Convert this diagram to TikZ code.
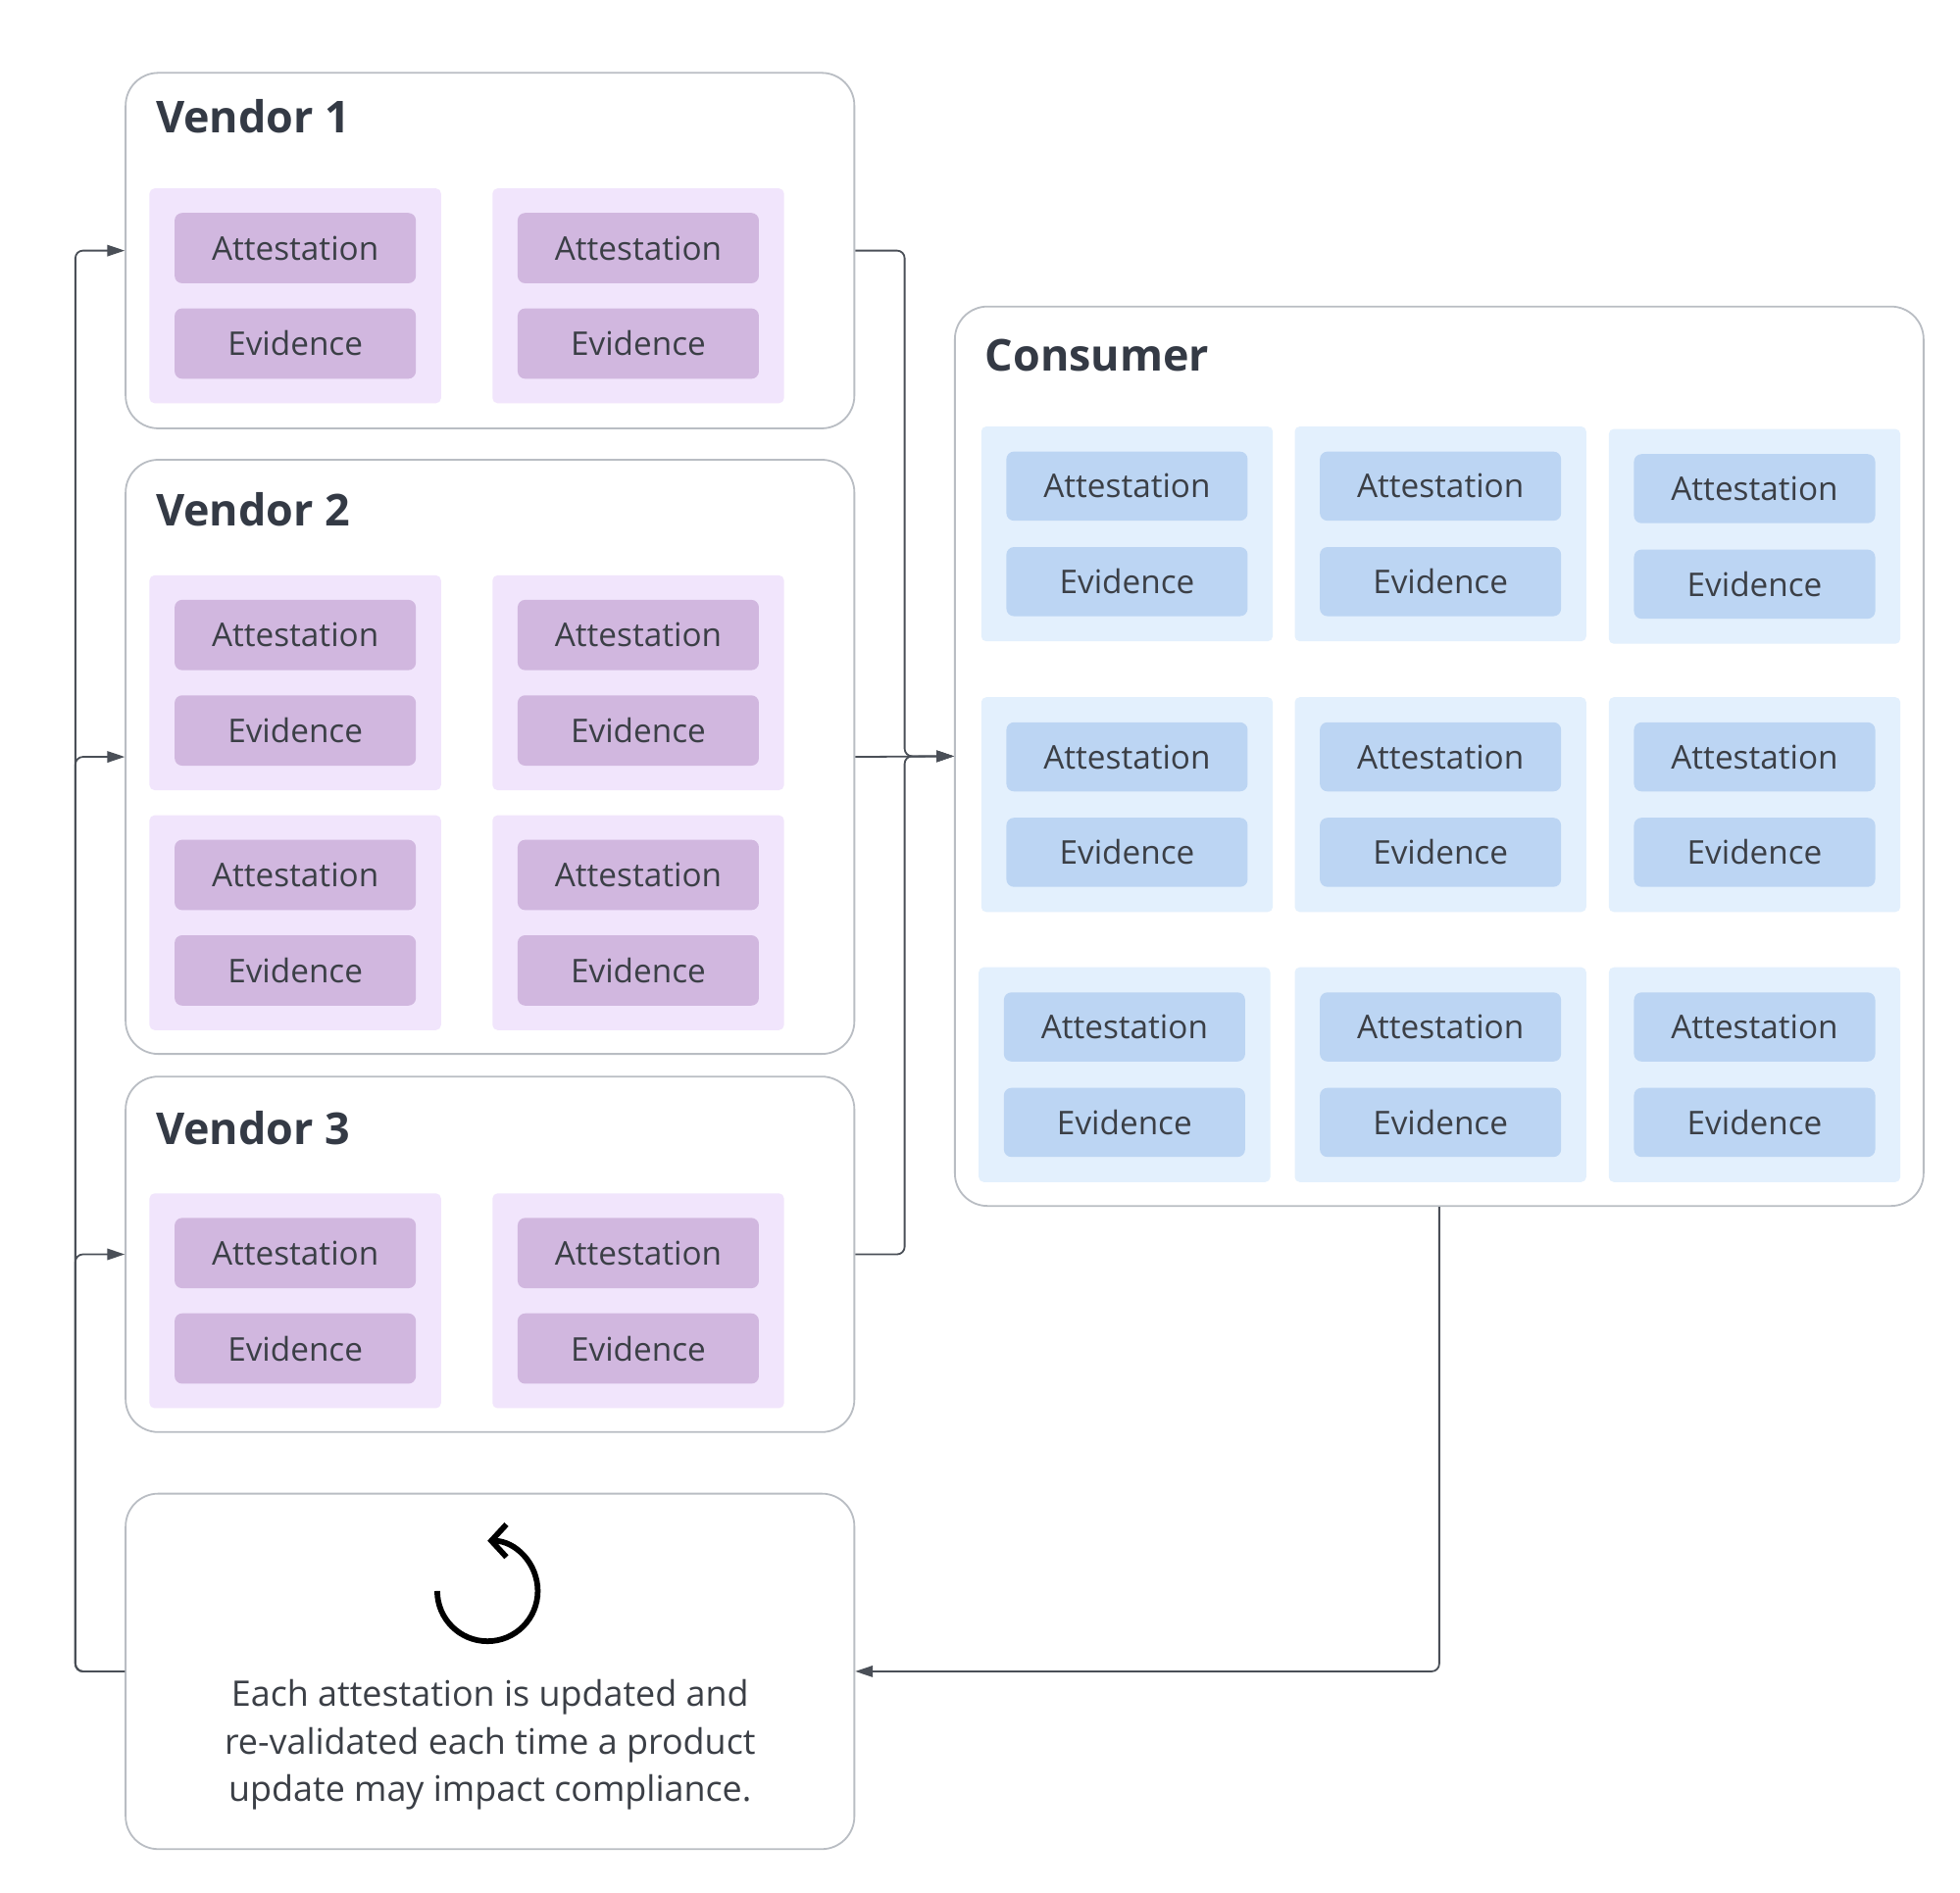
\documentclass[tikz,border=0pt]{standalone}
\usepackage{fontspec}
\setmainfont{Open Sans}
\usetikzlibrary{arrows.meta,calc}
\definecolor{bordergray}{HTML}{B9BDC3}
\definecolor{linegray}{HTML}{4A4F57}
\definecolor{titlecol}{HTML}{343A45}
\definecolor{textcol}{HTML}{3B3F46}
\definecolor{ppanel}{HTML}{F1E5FC}
\definecolor{pinner}{HTML}{D1B7DF}
\definecolor{bpanel}{HTML}{E3F0FD}
\definecolor{binner}{HTML}{BCD5F3}
\tikzset{
  bigbox/.style={draw=bordergray, line width=1.4pt, fill=white, rounded corners=26pt, inner sep=0pt},
  ppan/.style={fill=ppanel, rounded corners=4pt, minimum width=232pt, minimum height=171pt, inner sep=0pt},
  bpan/.style={fill=bpanel, rounded corners=4pt, minimum width=232pt, minimum height=171pt, inner sep=0pt},
  pin/.style={fill=pinner, rounded corners=6pt, minimum width=192pt, minimum height=56pt, inner sep=0pt, text=textcol, font=\fontsize{26}{30}\selectfont},
  bin/.style={fill=binner, rounded corners=6pt, minimum width=192pt, minimum height=55pt, inner sep=0pt, text=textcol, font=\fontsize{26}{30}\selectfont},
  boxtitle/.style={anchor=base west, inner sep=0pt, text=titlecol, font=\fontsize{35}{40}\selectfont\bfseries},
  conn/.style={draw=linegray, line width=1.4pt, rounded corners=6pt, -{Triangle[length=14pt,width=9pt]}},
}
\newcommand{\mkpanel}[5]{%
  \node[#4] (#1) at (#2,#3) {};
  \node[#5] (#1a) at (#2,#3-38) {Attestation};
  \node[#5] (#1e) at (#2,#3+38) {Evidence};
}
\begin{document}
\begin{tikzpicture}[x=1pt,y=-1pt]
\useasboundingbox (0,0) rectangle (1560,1506.2);
% vendor boxes
\node[bigbox, minimum width=580pt, minimum height=283pt] (v1) at (390,199.5) {};
\node[bigbox, minimum width=580pt, minimum height=473pt] (v2) at (390,602.5) {};
\node[bigbox, minimum width=580pt, minimum height=283pt] (v3) at (390,998.5) {};
\node[bigbox, minimum width=580pt, minimum height=283pt] (bot) at (390,1330.5) {};
\node[bigbox, minimum width=771pt, minimum height=716pt] (cons) at (1145.5,602) {};
% titles
\node[boxtitle] (t1) at (124,106) {Vendor 1};
\node[boxtitle] (t2) at (124,419) {Vendor 2};
\node[boxtitle] (t3) at (124,911) {Vendor 3};
\node[boxtitle] (tc) at (784,295) {Consumer};
% vendor panels
\mkpanel{pa}{235}{235.5}{ppan}{pin}
\mkpanel{pb}{508}{235.5}{ppan}{pin}
\mkpanel{pc}{235}{543.5}{ppan}{pin}
\mkpanel{pd}{508}{543.5}{ppan}{pin}
\mkpanel{pe}{235}{734.5}{ppan}{pin}
\mkpanel{pf}{508}{734.5}{ppan}{pin}
\mkpanel{pg}{235}{1035.5}{ppan}{pin}
\mkpanel{ph}{508}{1035.5}{ppan}{pin}
% consumer panels
\mkpanel{ca}{897}{425}{bpan}{bin}
\mkpanel{cb}{1146.5}{425}{bpan}{bin}
\mkpanel{cc}{1396.5}{427}{bpan}{bin}
\mkpanel{cd}{897}{640.5}{bpan}{bin}
\mkpanel{ce}{1146.5}{640.5}{bpan}{bin}
\mkpanel{cf}{1396.5}{640.5}{bpan}{bin}
\mkpanel{cg}{895}{855.5}{bpan}{bin}
\mkpanel{ch}{1146.5}{855.5}{bpan}{bin}
\mkpanel{ci}{1396.5}{855.5}{bpan}{bin}
% refresh icon
\coordinate (ic) at (388,1266.5);
\draw[line width=4.5pt, -{Straight Barb[length=12pt,width=26pt,line width=4.5pt]}] ($(ic)+(-40,0)$) arc[start angle=180, end angle=-90, radius=40];
\node[text=textcol, align=center, font=\fontsize{28}{38}\selectfont] (note) at (390,1389) {Each attestation is updated and\\re-validated each time a product\\update may impact compliance.};
% connectors
\coordinate (m) at (720,602);
\coordinate (L) at (60,1330.5);
\draw[conn] (v1.east) -| (m) -- (cons.west);
\draw[conn] (v2.east) -- (cons.west);
\draw[conn] (v3.east) -| (m) -- (cons.west);
\draw[conn] (cons.south) |- (bot.east);
\draw[conn] (bot.west) -- (L) |- (v1.west);
\draw[conn] (bot.west) -- (L) |- (v2.west);
\draw[conn] (bot.west) -- (L) |- (v3.west);
\end{tikzpicture}
\end{document}
